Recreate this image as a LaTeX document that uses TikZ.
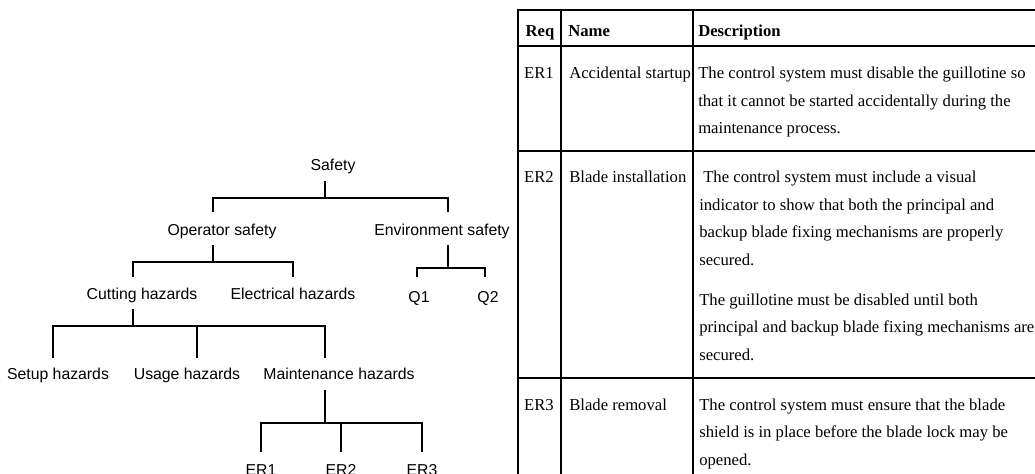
\documentclass[tikz,border=0pt]{standalone}
\usepackage{fontspec}
\newfontfamily\treefont{Liberation Sans}
\newfontfamily\tabfont{Liberation Serif}
\usetikzlibrary{calc}
\begin{document}
\begin{tikzpicture}[x=0.75pt,y=-0.75pt,
  lbl/.style={font={\treefont\fontsize{11.85}{14}\selectfont}, anchor=base,
              inner sep=0pt, text height=8.5pt, text depth=0pt},
  conn/.style={line width=1.6pt, line join=miter},
  cell/.style={font={\tabfont\fontsize{12.5}{15}\selectfont}, anchor=base west, inner sep=0pt},
  idcell/.style={cell, anchor=base},
  head/.style={cell, font={\tabfont\bfseries\fontsize{12.5}{15}\selectfont}},
  rule/.style={line width=1.4pt}]

\fill[white] (0,0) rectangle (1035,474);
\clip (0,0) rectangle (1035,474);

% ---------------- hazard tree ----------------
\node[lbl] (safety) at (333,171) {Safety};
\node[lbl] (op)     at (222,235) {Operator safety};
\node[lbl] (env)    at (442,235) {Environment safety};
\node[lbl] (cut)    at (142,299) {Cutting hazards};
\node[lbl] (elec)   at (293,299) {Electrical hazards};
\node[lbl] (q1)     at (419,302) {Q1};
\node[lbl] (q2)     at (488,302) {Q2};
\node[lbl] (setup)  at (58,379)  {Setup hazards};
\node[lbl] (usage)  at (187,379) {Usage hazards};
\node[lbl] (maint)  at (339,379) {Maintenance hazards};
\node[lbl] (er1)    at (261,475) {ER1};
\node[lbl] (er2)    at (341,475) {ER2};
\node[lbl] (er3)    at (422,475) {ER3};

% junction points of the bars
\coordinate (j0) at (325,198); \coordinate (j0a) at (213,198); \coordinate (j0b) at (448,198);
\coordinate (j1) at (213,262); \coordinate (j1a) at (133,262); \coordinate (j1b) at (293,262);
\coordinate (j2) at (448,268); \coordinate (j2a) at (417,268); \coordinate (j2b) at (485,268);
\coordinate (j3) at (133,326); \coordinate (j3a) at (53,326);  \coordinate (j3b) at (197,326);
\coordinate (j3c) at (325,326);
\coordinate (j4) at (325,423); \coordinate (j4a) at (261,423); \coordinate (j4b) at (341,423);
\coordinate (j4c) at (422,423);

% parent stubs
\draw[conn, shorten <=7pt]   (safety.south -| j0) -- (j0);
\draw[conn, shorten <=7.5pt] (op.south -| j1) -- (j1);
\draw[conn, shorten <=7.5pt] (env.south -| j2) -- (j2);
\draw[conn, shorten <=7pt]   (cut.south -| j3) -- (j3);
\draw[conn, shorten <=8.25pt] (maint.south -| j4) -- (j4);

% child drops joined to the bars
\draw[conn, shorten <=8.25pt] (op.north -| j0a) -- (j0a) -- (j0);
\draw[conn, shorten <=8.25pt] (env.north -| j0b) -- (j0b) -- (j0);
\draw[conn, shorten <=8pt] (cut.north -| j1a) -- (j1a) -- (j1);
\draw[conn, shorten <=8pt] (elec.north -| j1b) -- (j1b) -- (j1);
\draw[conn, shorten <=10pt] (q1.north -| j2a) -- (j2a) -- (j2);
\draw[conn, shorten <=10pt] (q2.north -| j2b) -- (j2b) -- (j2);
\draw[conn, shorten <=7.3pt] (setup.north -| j3a) -- (j3a) -- (j3);
\draw[conn, shorten <=7.3pt] (usage.north -| j3b) -- (j3b) -- (j3);
\draw[conn, shorten <=7.3pt] (maint.north -| j3c) -- (j3c) -- (j3);
\draw[conn, shorten <=8.8pt] (er1.north -| j4a) -- (j4a) -- (j4);
\draw[conn, shorten <=8.8pt] (er2.north -| j4b) -- (j4b) -- (j4);
\draw[conn, shorten <=8.8pt] (er3.north -| j4c) -- (j4c) -- (j4);

% ---------------- requirements table ----------------
\draw[rule] (517,10) -- (1040,10);
\foreach \y in {46,151,378} \draw[rule] (518,\y) -- (1040,\y);
\foreach \x in {518,561,693} \draw[rule] (\x,10) -- (\x,480);

\node[head, anchor=base] (hreq) at (540,37) {Req};
\node[head] (hname) at (568,37) {Name};
\node[head] (hdesc) at (698,37) {Description};

\node[idcell] (r1) at (539,79)  {ER1};
\node[idcell] (r2) at (539,183) {ER2};
\node[idcell] (r3) at (539,410) {ER3};
\node[cell] (n1) at (569,79)  {Accidental startup};
\node[cell] (n2) at (569,183) {Blade installation};
\node[cell] (n3) at (569,410) {Blade removal};

\foreach \t [count=\i] in {The control system must disable the guillotine so,
    that it cannot be started accidentally during the,
    maintenance process.}
  \node[cell] (d1-\i) at (698,{79+27.5*(\i-1)}) {\t};

\node[cell] (d2-1) at (703,183) {The control system must include a visual};
\foreach \t [count=\i from 2] in {indicator to show that both the principal and,
    backup blade fixing mechanisms are properly,
    secured.}
  \node[cell] (d2-\i) at (699,{183+27.5*(\i-1)}) {\t};
\foreach \t [count=\i from 5] in {The guillotine must be disabled until both,
    principal and backup blade fixing mechanisms are,
    secured.}
  \node[cell] (d2-\i) at (699,{305+27.5*(\i-5)}) {\t};

\foreach \t [count=\i] in {The control system must ensure that the blade,
    shield is in place before the blade lock may be,
    opened.}
  \node[cell] (d3-\i) at (699,{410+27.5*(\i-1)}) {\t};
\end{tikzpicture}
\end{document}
